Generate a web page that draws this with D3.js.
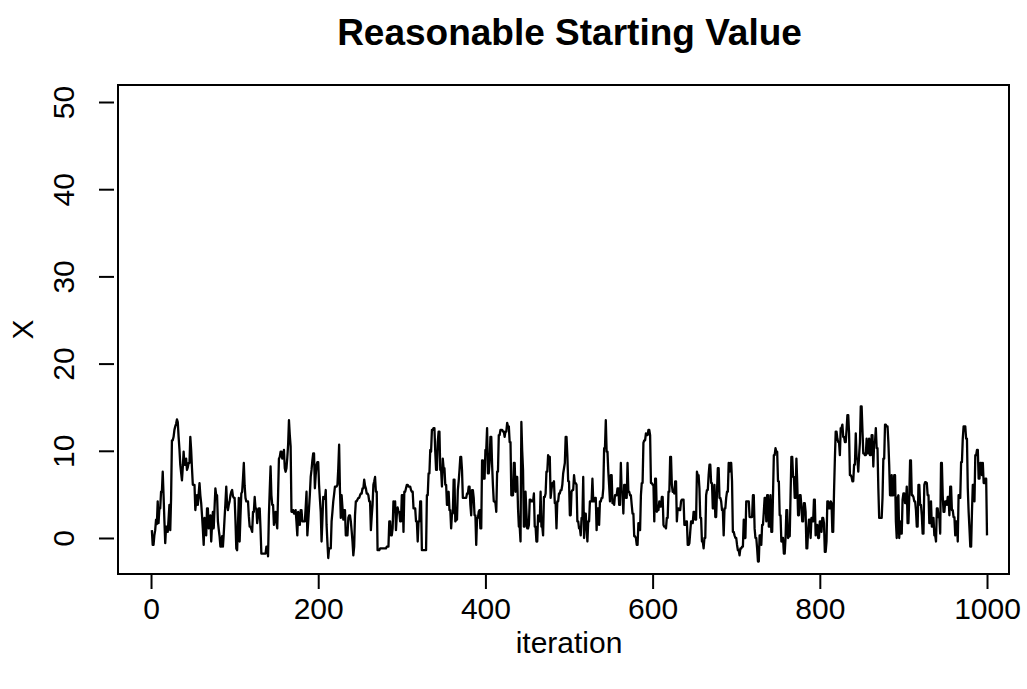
<!DOCTYPE html>
<html>
<head>
<meta charset="utf-8">
<script src="https://cdn.jsdelivr.net/npm/d3@7"></script>
<style>
  html, body { margin: 0; padding: 0; background: #fff; }
  svg text { font-family: "Liberation Sans", Arial, Helvetica, sans-serif; fill: #000; }
</style>
</head>
<body>
<svg id="chart" width="1027" height="689"></svg>
<script>
// Trace of the sampler, one value per iteration (1..1000)
const chainValues = [
  0.9, -0.8, -0.8, 0.3, 0.9, 2.1, 1.6, 4.2, 1.7, 3.4,
  3.4, 5.3, 5.3, 7.6, 4.9, 2.0, -0.6, 1.3, 1.3, 0.7,
  2.2, 3.8, 0.9, 4.5, 11.2, 11.2, 11.6, 12.4, 12.8, 13.1,
  13.6, 13.3, 11.6, 10.2, 8.4, 7.5, 6.6, 8.1, 9.9, 8.4,
  8.4, 9.1, 7.8, 8.1, 8.6, 8.6, 11.6, 10.1, 8.0, 6.1,
  6.1, 6.1, 3.2, 4.2, 4.9, 3.8, 5.1, 6.3, 4.9, 4.0,
  2.6, 1.0, -0.8, 2.3, 1.2, 0.3, 3.4, 3.4, 1.1, 2.0,
  2.6, -0.4, 1.5, 3.0, 1.1, 3.5, 5.7, 4.9, 4.9, 1.9,
  1.0, 0.2, -1.0, -1.0, 0.2, -1.0, 0.5, 2.3, 4.0, 5.9,
  3.8, 3.2, 3.8, 4.2, 4.9, 5.3, 5.5, 4.8, 4.6, 4.6,
  2.0, -1.2, -1.4, 1.5, 4.6, -0.4, 2.5, 5.1, 5.3, 6.8,
  8.6, 6.0, 4.6, 4.2, 4.2, 4.2, 2.5, 1.3, 1.3, 1.0,
  0.7, 3.0, 3.0, 4.7, 3.4, 3.4, 1.7, 2.5, 3.4, 3.4,
  1.0, -1.8, -1.8, -1.8, -1.8, -1.8, -1.8, -1.0, -1.0, -2.1,
  2.6, 5.5, 8.2, 4.9, 3.8, 3.8, 1.5, 2.4, 3.0, 1.8,
  1.1, 5.0, 9.1, 9.3, 9.9, 9.9, 9.1, 9.4, 10.1, 8.0,
  7.6, 8.0, 9.2, 10.7, 13.5, 11.8, 10.5, 3.0, 3.0, 3.2,
  2.8, 2.8, 3.2, 1.8, 0.3, 3.0, 2.2, 1.5, 3.2, 3.2,
  1.9, 1.9, 1.9, 1.9, 3.5, 5.3, 0.3, 1.8, 3.4, 5.0,
  7.0, 7.8, 8.9, 9.7, 9.7, 5.7, 7.2, 8.4, 8.7, 8.7,
  6.1, 4.5, 3.0, -0.4, 2.0, 4.7, 4.5, 4.5, 5.5, 1.5,
  -0.5, -2.3, -1.2, -1.2, -1.2, 1.9, 3.0, 4.2, 5.0, 5.9,
  5.9, 5.9, 6.1, 8.0, 10.7, 5.5, 2.3, 4.9, 3.5, 2.1,
  3.2, 3.2, 0.3, 0.3, 0.3, 2.3, 2.6, 2.6, 1.9, 0.8,
  -0.4, -2.0, -1.0, 2.6, 4.2, 4.2, 4.4, 4.6, 4.6, 4.9,
  5.1, 5.1, 5.7, 5.7, 6.7, 6.0, 5.7, 5.1, 5.1, 4.9,
  4.2, 4.2, 0.9, 2.5, 3.8, 6.1, 6.5, 7.0, 5.3, 5.3,
  -1.4, -1.4, -1.4, -1.2, -1.2, -1.2, -1.2, -1.2, -1.2, -1.2,
  -1.2, -1.0, -1.0, -1.0, 1.9, 1.9, 0.3, 0.3, 1.1, 4.2,
  3.0, 4.2, 0.9, 2.6, 3.5, 3.0, 3.0, 1.9, 1.9, 4.9,
  4.9, 0.7, 5.3, 5.3, 5.7, 6.1, 6.1, 5.9, 5.9, 5.9,
  5.5, 5.3, 5.3, 3.4, 3.4, 3.4, 1.9, 1.9, -0.4, 1.9,
  1.9, 4.2, 4.2, -1.4, -1.4, -1.4, -1.4, -1.4, -1.4, 4.9,
  4.9, 7.4, 7.4, 10.1, 9.9, 12.4, 12.4, 12.6, 12.6, 9.9,
  7.8, 7.8, 11.0, 12.2, 12.2, 7.8, 7.8, 5.9, 9.1, 8.0,
  8.0, 6.1, 6.1, 3.8, 3.8, 5.3, 3.2, 3.2, 1.1, 2.8,
  2.8, 6.7, 6.7, 1.9, 2.1, 2.1, 5.5, 6.5, 7.8, 9.3,
  9.3, 7.8, 4.6, 4.6, 4.6, 4.6, 4.6, 5.1, 5.1, 5.9,
  5.9, 3.8, 2.6, 5.5, 5.5, 4.6, 2.6, 2.6, -0.8, 2.3,
  2.3, 3.0, 3.2, 1.1, 1.1, 8.9, 8.9, 6.8, 6.8, 10.1,
  10.1, 12.6, 7.4, 7.4, 8.7, 11.6, 11.6, 8.4, 6.0, 4.2,
  4.2, 4.0, 3.0, 7.6, 7.6, 11.8, 11.8, 12.4, 12.4, 12.4,
  12.2, 12.2, 11.6, 12.2, 12.2, 13.2, 12.8, 12.8, 11.0, 11.0,
  4.9, 4.9, 4.9, 8.6, 8.6, 5.3, 7.0, 7.0, 3.4, 1.3,
  1.3, -0.4, 13.3, 10.0, 7.8, 1.3, 1.3, 5.3, 3.0, 1.1,
  1.1, 1.5, 4.4, 4.4, 4.2, 4.2, 4.2, 5.1, 1.3, 1.3,
  -0.4, -0.4, 2.6, 1.9, 1.9, 5.3, 1.3, 1.3, 0.3, 4.7,
  4.7, 5.1, 7.6, 7.6, 9.5, 9.3, 9.3, 4.6, 5.5, 6.3,
  6.3, 6.5, 4.0, 4.0, 1.1, 4.2, 4.2, 5.1, 5.1, 5.5,
  5.5, 6.1, 7.4, 8.0, 8.6, 11.6, 11.6, 9.5, 6.5, 6.5,
  2.6, 2.6, 5.3, 5.5, 5.5, 7.2, 6.3, 6.3, 6.1, 1.9,
  1.9, 1.1, 1.1, 0.3, 2.3, 2.3, 7.0, 0.0, 2.8, 2.8,
  1.0, -0.4, 1.9, 1.9, 4.2, 4.2, 4.2, 6.8, 4.2, 4.2,
  4.6, 4.6, 0.9, 3.4, 3.4, 1.5, 4.2, 4.2, 4.6, 4.6,
  5.7, 10.3, 10.3, 13.5, 9.9, 9.9, 7.6, 6.0, 4.2, 7.2,
  7.2, 4.0, 4.0, 3.8, 4.9, 4.9, 4.9, 5.7, 5.7, 3.8,
  3.8, 8.6, 5.3, 5.3, 2.8, 6.1, 6.1, 4.6, 4.6, 8.6,
  5.3, 5.3, 4.9, 4.9, 3.8, 2.8, 2.8, 0.2, 0.2, 0.0,
  -0.8, -0.8, 1.7, 0.9, 0.9, 4.9, 6.3, 6.3, 10.9, 11.2,
  11.2, 12.0, 11.8, 11.8, 12.4, 12.4, 11.8, 6.3, 6.3, 6.1,
  6.1, 1.9, 6.8, 6.8, 3.0, 3.2, 3.2, 4.2, 3.6, 3.6,
  4.7, 4.7, 1.5, 1.3, 1.3, 1.1, 2.3, 2.3, 5.3, 5.3,
  9.3, 9.3, 6.1, 5.3, 5.3, 5.1, 6.5, 6.5, 1.9, 3.4,
  3.4, 3.2, 3.2, 4.2, 4.4, 4.4, 4.4, 1.5, 1.5, 1.9,
  1.9, -0.8, -0.8, -0.6, 0.7, 1.9, 1.9, 1.7, 3.0, 3.0,
  2.1, 2.1, 7.6, 7.2, 7.2, 5.7, 2.3, 2.3, -0.4, -0.4,
  -1.2, 0.0, 0.0, 4.9, 5.5, 5.5, 7.2, 8.4, 8.4, 6.3,
  6.3, 3.4, 3.4, 6.1, 2.4, 2.4, 5.3, 8.0, 8.0, 4.6,
  4.6, 4.2, 3.2, 3.2, 0.3, 3.4, 3.4, 4.6, 5.3, 5.3,
  8.6, 7.6, 8.6, 8.6, 6.5, 0.7, 0.7, 0.3, 0.0, 0.0,
  -0.8, -1.4, -1.4, -2.0, -1.2, -1.2, -1.0, -1.0, 2.1, 0.0,
  0.0, 4.2, 4.2, 4.2, 4.2, 2.4, 2.4, 2.4, 2.4, 4.9,
  4.9, 1.1, 0.0, 0.0, -1.2, -2.7, -2.7, 0.3, 0.3, -0.8,
  1.5, 1.5, 3.0, 4.6, 4.6, 1.9, 4.9, 4.9, 1.3, 1.3,
  4.9, 0.7, 0.7, 4.9, 9.5, 9.5, 10.3, 9.9, 9.9, 6.5,
  6.5, 2.6, 2.6, -0.4, 0.0, 0.0, -1.8, -1.8, 0.0, 3.2,
  3.2, 0.0, 0.2, 0.2, 4.9, 9.3, 9.3, 7.0, 7.0, 4.6,
  4.6, 9.1, 6.3, 2.6, 2.6, 4.9, 4.9, 3.6, 1.9, 1.9,
  4.0, 4.0, 3.0, -1.2, -1.2, 0.9, 2.1, 2.1, 0.0, 2.3,
  2.3, 1.9, 4.4, 4.4, 0.3, 1.5, 1.5, 0.0, 0.0, 1.9,
  1.9, 0.7, 2.3, 2.3, 1.7, -1.6, -1.6, -0.4, 4.2, 4.2,
  3.4, 3.4, 4.2, 4.0, 0.7, 0.7, 5.3, 9.0, 12.2, 12.2,
  11.4, 11.0, 11.0, 9.5, 12.6, 12.6, 13.0, 11.6, 11.6, 11.0,
  11.0, 12.4, 14.1, 14.1, 12.0, 7.2, 7.2, 7.0, 6.5, 6.5,
  8.4, 8.4, 12.0, 9.1, 9.1, 7.6, 9.5, 11.0, 15.1, 15.1,
  12.4, 9.7, 9.7, 9.5, 9.5, 11.4, 9.7, 9.7, 11.4, 9.5,
  9.5, 11.8, 11.8, 8.2, 11.0, 11.0, 12.6, 10.3, 10.3, 5.7,
  2.3, 2.3, 2.3, 2.3, 4.6, 9.1, 9.1, 13.0, 13.0, 12.8,
  12.8, 11.0, 8.4, 4.9, 4.9, 7.2, 4.9, 4.9, 7.2, 7.2,
  1.9, 0.0, 4.6, 4.9, 0.0, 1.9, 0.5, 0.5, 4.4, 5.1,
  5.1, 4.0, 4.0, 5.9, 1.7, 1.7, 4.7, 8.9, 8.9, 4.9,
  4.9, 4.7, 4.2, 4.2, 3.2, 1.3, 1.3, 6.1, 6.1, 3.8,
  3.8, 2.6, 0.5, 0.5, 6.1, 6.4, 6.4, 6.3, 4.9, 4.9,
  1.7, 1.7, 4.2, 1.3, 1.3, 2.3, 0.3, 0.3, -0.4, 3.4,
  3.4, 2.4, 2.4, 0.5, 8.6, 8.6, 4.9, 3.0, 3.0, 4.2,
  4.2, 3.8, 4.7, 4.7, 2.6, 5.9, 5.9, 3.2, 3.2, 2.4,
  2.4, 0.3, 1.9, 1.9, -0.4, 4.9, 4.9, 4.6, 8.7, 8.7,
  11.4, 12.8, 12.8, 12.8, 11.4, 11.4, 5.7, 3.0, 1.1, -1.0,
  -1.0, 3.0, 6.1, 6.1, 4.2, 9.5, 9.5, 10.1, 10.1, 6.8,
  6.8, 8.6, 8.6, 7.2, 8.6, 6.3, 6.3, 6.8, 6.8, 0.3
];

const xTicks = [0, 200, 400, 600, 800, 1000];
const yTicks = [0, 10, 20, 30, 40, 50];
const titleText = "Reasonable Starting Value";
const xLabel = "iteration";
const yLabel = "X";

const svg = d3.select("#chart");
const box = { left: 118, right: 1009, top: 85, bottom: 574 };

const x = d3.scaleLinear().domain([-39.5, 1026.3]).range([box.left, box.right]);
const y = d3.scaleLinear().domain([-4.13, 51.95]).range([box.bottom, box.top]);

// trace line
const line = d3.line()
  .x((d, i) => x(i + 1))
  .y(d => y(d));

svg.append("path")
  .datum(chainValues)
  .attr("fill", "none")
  .attr("stroke", "#000")
  .attr("stroke-width", 2.3)
  .attr("stroke-linejoin", "round")
  .attr("d", line);

// plot frame
svg.append("rect")
  .attr("x", box.left).attr("y", box.top)
  .attr("width", box.right - box.left).attr("height", box.bottom - box.top)
  .attr("fill", "none").attr("stroke", "#000").attr("stroke-width", 2);

// x axis
const xAxis = d3.axisBottom(x).tickValues(xTicks).tickFormat(d3.format("d"))
  .tickSize(15).tickSizeOuter(0).tickPadding(9);
const gx = svg.append("g").attr("transform", `translate(0,${box.bottom})`).call(xAxis);
gx.select(".domain").remove();
gx.selectAll(".tick line").attr("stroke", "#000").attr("stroke-width", 2);
gx.selectAll(".tick text")
  .attr("font-size", 30)
  .attr("font-family", "Liberation Sans, Arial, sans-serif")
  .attr("fill", "#000");

// y axis (labels run vertically, parallel to the axis)
const yAxis = d3.axisLeft(y).tickValues(yTicks).tickFormat(d3.format("d"))
  .tickSize(15).tickSizeOuter(0);
const gy = svg.append("g").attr("transform", `translate(${box.left - 4},0)`).call(yAxis);
gy.select(".domain").remove();
gy.selectAll(".tick line").attr("stroke", "#000").attr("stroke-width", 2);
gy.selectAll(".tick text")
  .attr("x", null).attr("dy", null)
  .attr("text-anchor", "middle")
  .attr("transform", "translate(-40,0) rotate(-90)")
  .attr("font-size", 30)
  .attr("font-family", "Liberation Sans, Arial, sans-serif")
  .attr("fill", "#000");

// axis titles
svg.append("text")
  .attr("x", (x(0) + x(1000)) / 2).attr("y", 653)
  .attr("text-anchor", "middle")
  .attr("font-size", 30)
  .text(xLabel);

svg.append("text")
  .attr("transform", `translate(33,${(box.top + box.bottom) / 2}) rotate(-90)`)
  .attr("text-anchor", "middle")
  .attr("font-size", 30)
  .text(yLabel);

// main title
svg.append("text")
  .attr("x", (box.left + box.right) / 2 + 6).attr("y", 45)
  .attr("text-anchor", "middle")
  .attr("font-size", 37)
  .attr("font-weight", "bold")
  .text(titleText);
</script>
</body>
</html>
